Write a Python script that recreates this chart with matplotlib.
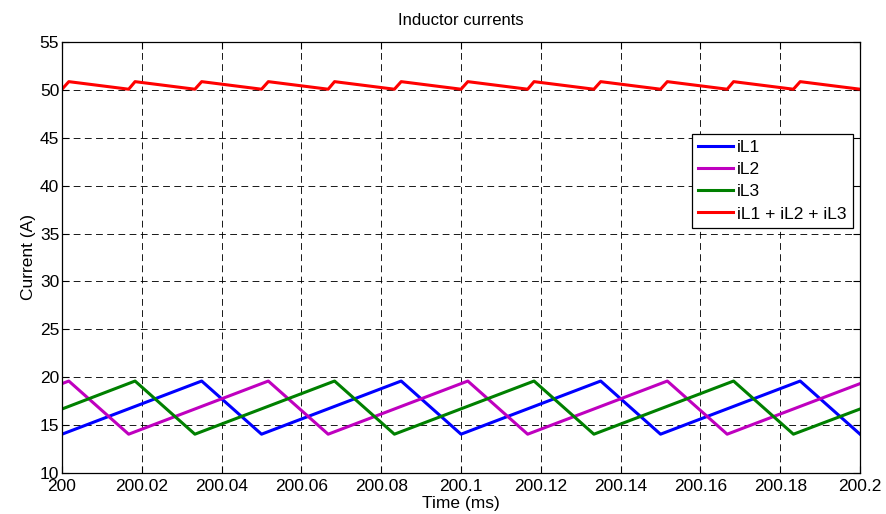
import matplotlib.pyplot as plt

plt.rcParams['font.family'] = ['Liberation Sans', 'DejaVu Sans']

# triangle vertices of each phase current (time in ms, current in A)
t_il1 = [200.000, 200.035, 200.050, 200.085, 200.100, 200.135, 200.150, 200.185, 200.200]
il1 = [14.05, 19.60, 14.05, 19.60, 14.05, 19.60, 14.05, 19.60, 14.05]

t_il2 = [200.000, 200.0017, 200.0167, 200.0517, 200.0667, 200.1017, 200.1167,
         200.1517, 200.1667, 200.200]
il2 = [19.33, 19.60, 14.05, 19.60, 14.05, 19.60, 14.05, 19.60, 14.05, 19.33]

t_il3 = [200.000, 200.0183, 200.0333, 200.0683, 200.0833, 200.1183, 200.1333,
         200.1683, 200.1833, 200.200]
il3 = [16.68, 19.60, 14.05, 19.60, 14.05, 19.60, 14.05, 19.60, 14.05, 16.68]

# total current: short rise when all three phases ramp up, slow fall otherwise
t_sum = [200.000, 200.0017, 200.0167, 200.0183, 200.0333, 200.0350, 200.0500,
         200.0517, 200.0667, 200.0683, 200.0833, 200.0850, 200.1000, 200.1017,
         200.1167, 200.1183, 200.1333, 200.1350, 200.1500, 200.1517, 200.1667,
         200.1683, 200.1833, 200.1850, 200.2000]
i_sum = [50.07, 50.86, 50.07, 50.86, 50.07, 50.86, 50.07, 50.86, 50.07, 50.86,
         50.07, 50.86, 50.07, 50.86, 50.07, 50.86, 50.07, 50.86, 50.07, 50.86,
         50.07, 50.86, 50.07, 50.86, 50.07]

x_ticks = [200, 200.02, 200.04, 200.06, 200.08, 200.1, 200.12, 200.14, 200.16, 200.18, 200.2]
x_labels = ['200', '200.02', '200.04', '200.06', '200.08', '200.1', '200.12',
            '200.14', '200.16', '200.18', '200.2']
y_ticks = [10, 15, 20, 25, 30, 35, 40, 45, 50, 55]

fig = plt.figure(figsize=(8.86, 5.14), dpi=100)
ax = fig.add_axes([0.07, 0.0798, 0.9007, 0.8385])

lw = 2.2
ax.plot(t_il1, il1, color=(0, 0, 1), lw=lw, label='iL1')
ax.plot(t_il2, il2, color=(0.75, 0, 0.75), lw=lw, label='iL2')
ax.plot(t_il3, il3, color=(0, 0.5, 0), lw=lw, label='iL3')
ax.plot(t_sum, i_sum, color=(1, 0, 0), lw=lw, label='iL1 + iL2 + iL3')

ax.set_xlim(200, 200.2)
ax.set_ylim(10, 55)
ax.set_xticks(x_ticks)
ax.set_xticklabels(x_labels)
ax.set_yticks(y_ticks)
ax.tick_params(direction='in', top=True, right=True, length=5, width=0.8,
               labelsize=12.5)
ax.tick_params(axis='x', pad=4)
ax.tick_params(axis='y', pad=2)
ax.grid(True, color='k', lw=0.7, linestyle=(0, (7, 4.5)), alpha=0.9)
for s in ax.spines.values():
    s.set_linewidth(0.9)

ax.set_title('Inductor currents', fontsize=12, pad=12)
ax.set_xlabel('Time (ms)', fontsize=12.5, labelpad=2)
ax.set_ylabel('Current (A)', fontsize=12.5, labelpad=3)

leg = ax.legend(loc='upper right', bbox_to_anchor=(0.991, 0.7865), borderaxespad=0,
                fontsize=12.5, handlelength=2.0, handletextpad=0.25,
                labelspacing=0.4, borderpad=0.35, fancybox=False, framealpha=1)
leg.get_frame().set_edgecolor('k')
leg.get_frame().set_linewidth(0.9)

fig.savefig('out.png', dpi=100)
